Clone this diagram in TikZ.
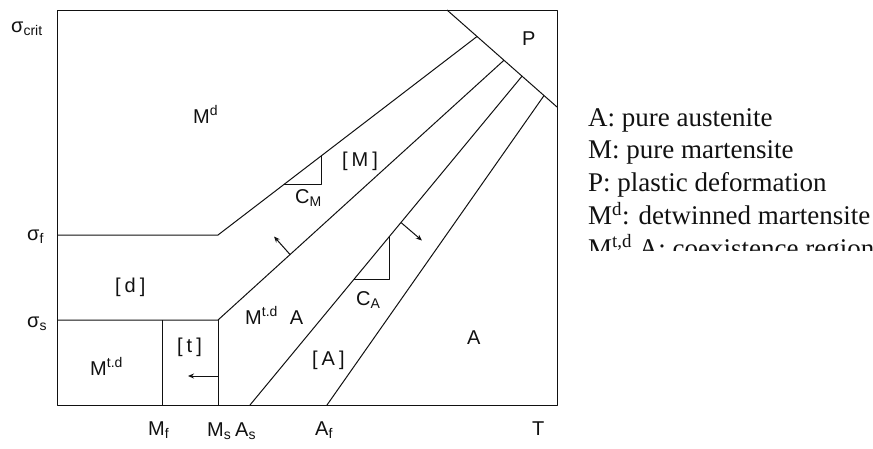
\documentclass[tikz,border=0pt]{standalone}
\usepackage{fontspec}
\setmainfont{Liberation Serif}
\setsansfont{Liberation Sans}
\usetikzlibrary{arrows.meta,calc}

\definecolor{PInk}{HTML}{111111}
\newcommand{\phbr}[1]{[\hspace{0.2em}#1\hspace{0.2em}]}

\begin{document}
\begin{tikzpicture}[x=1pt,y=-1pt,
    bound/.style={PInk,line width=1pt,line join=round},
    lbl/.style={font=\sffamily\fontsize{20}{23}\selectfont,text=PInk,inner sep=0pt,anchor=base west},
    legend/.style={font=\rmfamily\fontsize{27}{30}\selectfont,text=PInk,inner sep=0pt,anchor=base west},
    drift/.style={bound,-{Stealth[length=6pt,width=5pt]}}]
  \useasboundingbox (0,0) rectangle (873,448);

  % frame and corner points
  \coordinate (bl) at (57,405);
  \coordinate (tr) at (557,10);
  \coordinate (pTop) at (447,10);
  \coordinate (pBot) at (557,107);
  \coordinate (sigF) at (57,235);
  \coordinate (sigS) at (57,320);
  \coordinate (fCorner) at (218,235);
  \coordinate (sCorner) at (218,320);
  \coordinate (Mf) at (162,405);
  \coordinate (Ms) at (218,405);
  \coordinate (As) at (250,405);
  \coordinate (Af) at (327,405);
  \coordinate (mEnd) at ($(pTop)!0.273!(pBot)$);
  \coordinate (sEnd) at ($(pTop)!0.518!(pBot)$);
  \coordinate (asEnd) at ($(pTop)!0.682!(pBot)$);
  \coordinate (afEnd) at ($(pTop)!0.882!(pBot)$);

  \draw[bound] (bl) rectangle (tr);
  \draw[bound] (pTop) -- (pBot);
  \draw[bound] (sigF) -- (fCorner) -- (mEnd);
  \draw[bound] (sigS) -- (sCorner) -- (sEnd);
  \draw[bound] (sCorner) -- (Ms);
  \draw[bound] (Mf) -- (Mf |- sCorner);
  \draw[bound] (As) -- (asEnd);
  \draw[bound] (Af) -- (afEnd);

  % slope triangles
  \coordinate (cm1) at ($(fCorner)!0.255!(mEnd)$);
  \coordinate (cm2) at ($(fCorner)!0.40!(mEnd)$);
  \draw[bound] (cm1) -| (cm2);
  \coordinate (ca1) at ($(As)!0.383!(asEnd)$);
  \coordinate (ca2) at ($(As)!0.511!(asEnd)$);
  \draw[bound] (ca1) -| (ca2);

  % moving boundaries
  \coordinate (pushM) at ($(sCorner)!0.252!(sEnd)$);
  \draw[drift] (pushM) -- ++(-16,-18);
  \coordinate (pushA) at ($(As)!0.555!(asEnd)$);
  \draw[drift] (pushA) -- ++(21,18);
  \coordinate (pushT) at (218,376);
  \draw[drift] (pushT) -- ++(-30,0);

  \node[lbl] (sCrit) at (11,32) {σ\textsubscript{crit}};
  \node[lbl] (sF) at (27,240) {σ\textsubscript{f}};
  \node[lbl] (sS) at (27,327) {σ\textsubscript{s}};
  \node[lbl] (md) at (193,123) {M\textsuperscript{d}};
  \node[lbl] (pl) at (522,45) {P};
  \node[lbl] (mBr) at (342,166) {\phbr{M}};
  \node[lbl] (cM) at (295,203) {C\textsubscript{M}};
  \node[lbl] (dBr) at (115,292) {\phbr{d}};
  \node[lbl] (mtdL) at (90,375) {M\textsuperscript{t.d}};
  \node[lbl] (tBr) at (177,352) {\phbr{t}};
  \node[lbl] (mtdA) at (245,324) {M\textsuperscript{t.d}\hspace{0.6em}A};
  \node[lbl] (cA) at (356,305) {C\textsubscript{A}};
  \node[lbl] (aBr) at (312,365) {\phbr{A}};
  \node[lbl] (aPure) at (467,344) {A};

  % temperature axis
  \node[lbl] (lMf) at (148,435) {M\textsubscript{f}};
  \node[lbl] (lMs) at (207,436) {M\textsubscript{s}};
  \node[lbl] (lAs) at (235,436) {A\textsubscript{s}};
  \node[lbl] (lAf) at (315,435) {A\textsubscript{f}};
  \node[lbl] (lT) at (532,435) {T};

  % key, last line cut off
  \begin{scope}
    \clip (560,0) rectangle (873,250);
    \foreach \txt [count=\i from 0] in {A: pure austenite, M: pure martensite,
        P: plastic deformation, M\textsuperscript{d}: detwinned martensite,
        {M\textsuperscript{t,d} A: coexistence region}}
      \node[legend] (leg\i) at (588,126+32.75*\i) {\txt};
  \end{scope}
\end{tikzpicture}
\end{document}
